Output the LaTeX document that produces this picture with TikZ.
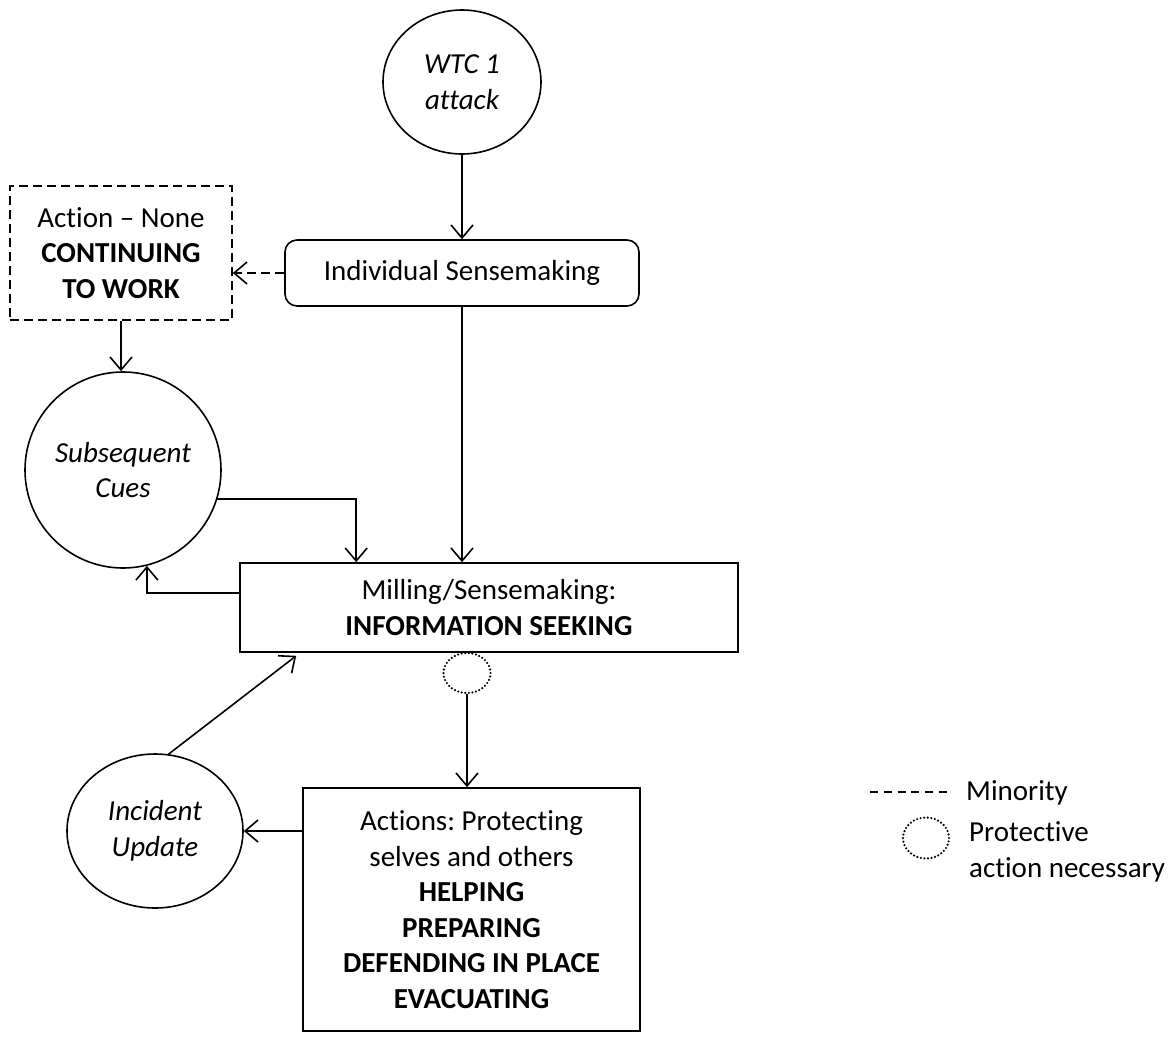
\documentclass[tikz,border=0pt]{standalone}
\usepackage{fontspec}
\setmainfont{Carlito}[Ligatures=NoCommon]
\usetikzlibrary{arrows.meta,shapes.geometric}
\frenchspacing

\begin{document}
\begin{tikzpicture}[x=1pt,y=-1pt,
  every node/.style={font=\fontsize{29}{35.5}\selectfont, inner sep=0pt, align=center},
  itext/.style={font=\fontsize{29}{35.5}\selectfont\itshape},
  outline/.style={draw, line width=1.6pt},
  conn/.style={line width=1.6pt, -{Straight Barb[length=13pt,width=22pt,line width=1.6pt]}},
  minority/.style={dash pattern=on 9pt off 5pt},
  protdots/.style={draw, line width=2.4pt, dash pattern=on 0pt off 3.6pt, line cap=round},
  box/.style={outline, rectangle}]

\useasboundingbox (0,0) rectangle (1174,1036);

% events and states
\node[outline, ellipse, itext, minimum width=158pt, minimum height=144pt] (wtc) at (462,82) {WTC 1\\attack};
\node[box, rounded corners=12pt, minimum width=354pt, minimum height=66pt] (indiv) at (462,273) {Individual Sensemaking};
\node[box, minority, minimum width=222pt, minimum height=134pt] (cont) at (121,253) {Action -- None\\\textbf{CONTINUING}\\\textbf{TO WORK}};
\node[outline, circle, itext, minimum size=196pt] (cues) at (123,470) {Subsequent\\Cues};
\node[box, minimum width=498pt, minimum height=89pt] (mill) at (489,607.5) {Milling/Sensemaking:\\\textbf{INFORMATION SEEKING}};
\node[protdots, ellipse, minimum width=47pt, minimum height=40pt] (prot) at (467,673) {};
\node[box, minimum width=337pt, minimum height=243pt] (act) at (471.5,909.5) {Actions: Protecting\\selves and others\\\textbf{HELPING}\\\textbf{PREPARING}\\\textbf{DEFENDING IN PLACE}\\\textbf{EVACUATING}};
\node[outline, ellipse, itext, minimum width=176pt, minimum height=154pt] (inc) at (155,831) {Incident\\Update};

% connectors
\draw[conn] (wtc.south) -- (indiv.north);
\draw[conn, minority] (indiv.west) -- (indiv.west -| cont.east);
\draw[conn] (cont.south) -- (cont.south |- cues.north);
\draw[conn] (indiv.south) -- (indiv.south |- mill.north);
\draw[conn] (cues.-17) -| ([xshift=117pt]mill.north west);
\draw[conn] ([yshift=14.5pt]mill.west) -| (cues.-76);
\draw[conn] (prot.south) -- (prot.south |- act.north);
\draw[conn] (inc.east -| act.west) -- (inc.east);
\draw[conn] (inc.80) -- ([xshift=57pt,yshift=-3pt]mill.south west);

% legend
\coordinate (legA) at (870,792);
\coordinate (legB) at (947,792);
\draw[line width=1.6pt, dash pattern=on 8pt off 5.8pt] (legA) -- (legB);
\node[anchor=west] (legmin) at (966,793) {Minority};
\node[protdots, ellipse, minimum width=46pt, minimum height=41pt] (legprot) at (926,838) {};
\node[anchor=west, align=left] (legtxt) at (969,852) {Protective\\action necessary};
\end{tikzpicture}
\end{document}
